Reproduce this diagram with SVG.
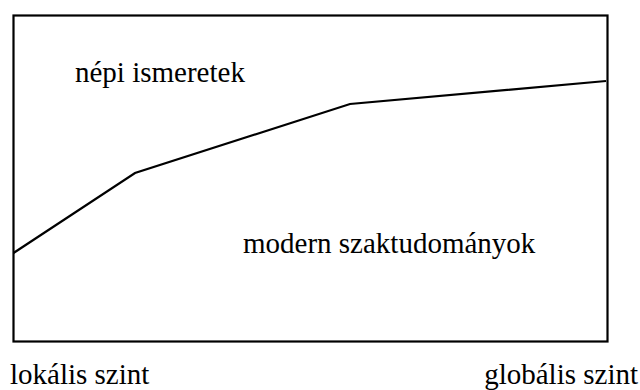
<svg xmlns="http://www.w3.org/2000/svg" width="640" height="390" viewBox="0 0 640 390">
<style>
.t{font-family:"Liberation Serif","Times New Roman",serif;font-size:29px;fill:#000}
.s{fill:none;stroke:#000;stroke-width:2.2}
</style>
<rect width="640" height="390" fill="#fff"/>
<g id="frame"><rect class="s" x="13.5" y="15.5" width="594" height="326"/></g>
<g id="connectors"><polyline class="s" points="13.5,253 135,173 350,104 606,81"/></g>
<g id="nepi"><text class="t" x="75" y="82">népi ismeretek</text></g>
<g id="modern"><text class="t" x="243" y="253">modern szaktudományok</text></g>
<g id="lokalis"><text class="t" x="10" y="384">lokális szint</text></g>
<g id="globalis"><text class="t" x="638" y="384" text-anchor="end">globális szint</text></g>
</svg>
